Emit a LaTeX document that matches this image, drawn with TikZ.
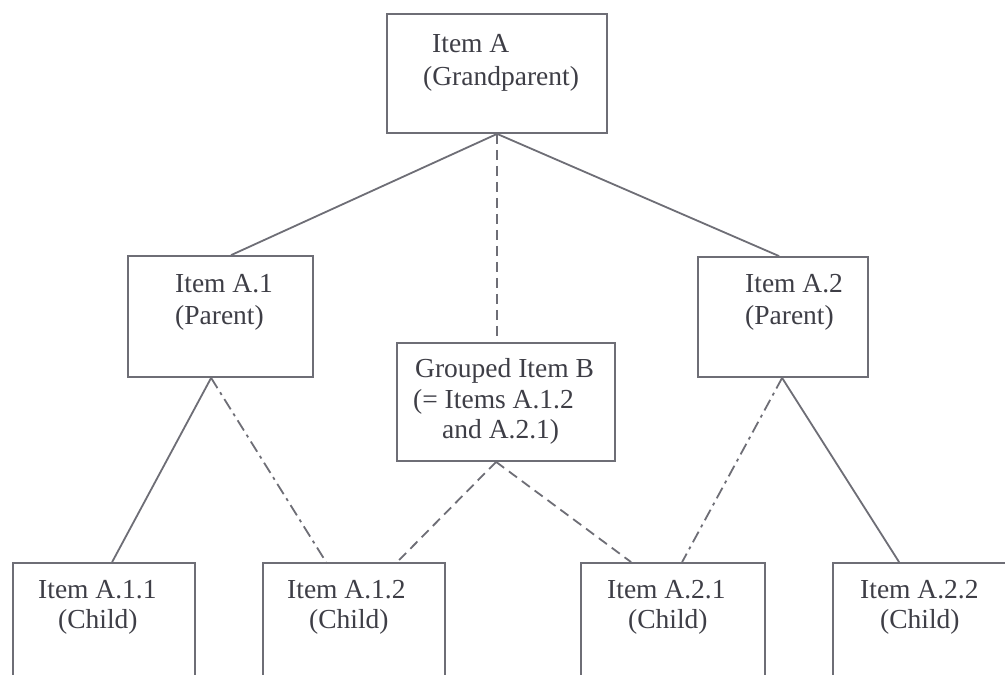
\documentclass[tikz,border=0pt]{standalone}
\usepackage{fontspec}
\setmainfont{Liberation Serif}
\usetikzlibrary{calc}
\definecolor{linecol}{RGB}{110,110,118}
\definecolor{textcol}{RGB}{62,62,70}
\tikzset{
  box/.style={draw=linecol, line width=1.8pt, rectangle, inner sep=0pt},
  txt/.style={anchor=base west, inner sep=0pt, text=textcol, font=\fontsize{27.5}{33}\selectfont},
  conn/.style={draw=linecol, line width=1.8pt},
  dashconn/.style={conn, dash pattern=on 10pt off 6pt},
  dotconn/.style={conn, dash pattern=on 12pt off 5pt on 3pt off 5pt},
}
\begin{document}
\begin{tikzpicture}[x=1pt,y=-1pt]
\useasboundingbox (0,0) rectangle (1005,675);
\clip (0,0) rectangle (1005,675);
\fill[white] (0,0) rectangle (1005,675);
% boxes
\node[box, minimum width=220pt, minimum height=119pt] (A) at (497,73.5) {};
\node[box, minimum width=185pt, minimum height=121pt] (A1) at (220.5,316.5) {};
\node[box, minimum width=170pt, minimum height=120pt] (A2) at (783,317) {};
\node[box, minimum width=218pt, minimum height=118pt] (B) at (506,402) {};
\node[box, minimum width=182pt, minimum height=137pt] (A11) at (104,631.5) {};
\node[box, minimum width=182pt, minimum height=137pt] (A12) at (354,631.5) {};
\node[box, minimum width=184pt, minimum height=137pt] (A21) at (673,631.5) {};
\node[box, minimum width=184pt, minimum height=137pt] (A22) at (925,631.5) {};
% texts
\node[txt] (tA1) at (432,52) {Item A};
\node[txt] (tA2) at (423,85) {(Grandparent)};
\node[txt] (tP11) at (175,292) {Item A.1};
\node[txt] (tP12) at (175,324) {(Parent)};
\node[txt] (tP21) at (745,292) {Item A.2};
\node[txt] (tP22) at (745,324) {(Parent)};
\node[txt] (tB1) at (415,377) {Grouped Item B};
\node[txt] (tB2) at (413,408) {(= Items A.1.2};
\node[txt] (tB3) at (442,438) {and A.2.1)};
\node[txt] (tC111) at (38,598) {Item A.1.1};
\node[txt] (tC112) at (58,628) {(Child)};
\node[txt] (tC121) at (287,598) {Item A.1.2};
\node[txt] (tC122) at (309,628) {(Child)};
\node[txt] (tC211) at (607,598) {Item A.2.1};
\node[txt] (tC212) at (628,628) {(Child)};
\node[txt] (tC221) at (860,598) {Item A.2.2};
\node[txt] (tC222) at (880,628) {(Child)};
% attachment points
\coordinate (Abot) at ($(A.south west)+(111,0)$);
\coordinate (A1top) at ($(A1.north west)+(104,0)$);
\coordinate (A2top) at ($(A2.north west)+(82,0)$);
\coordinate (Btop) at ($(B.north west)+(101,0)$);
\coordinate (A1bot) at ($(A1.south west)+(84,0)$);
\coordinate (A2bot) at ($(A2.south west)+(85,0)$);
\coordinate (Bbot) at ($(B.south west)+(100,0)$);
\coordinate (A11top) at ($(A11.north west)+(100,0)$);
\coordinate (A12topL) at ($(A12.north west)+(64,0)$);
\coordinate (A12topR) at ($(A12.north west)+(135,0)$);
\coordinate (A21topL) at ($(A21.north west)+(51,0)$);
\coordinate (A21topR) at ($(A21.north west)+(102,0)$);
\coordinate (A22top) at ($(A22.north west)+(67,0)$);
% connectors
\draw[conn] (Abot) -- (A1top);
\draw[conn] (Abot) -- (A2top);
\draw[dashconn] (Abot) -- (Btop);
\draw[conn] (A1bot) -- (A11top);
\draw[dotconn] (A1bot) -- (A12topL);
\draw[dashconn] (Bbot) -- (A12topR);
\draw[dashconn] (Bbot) -- (A21topL);
\draw[dotconn] (A2bot) -- (A21topR);
\draw[conn] (A2bot) -- (A22top);
\end{tikzpicture}
\end{document}
